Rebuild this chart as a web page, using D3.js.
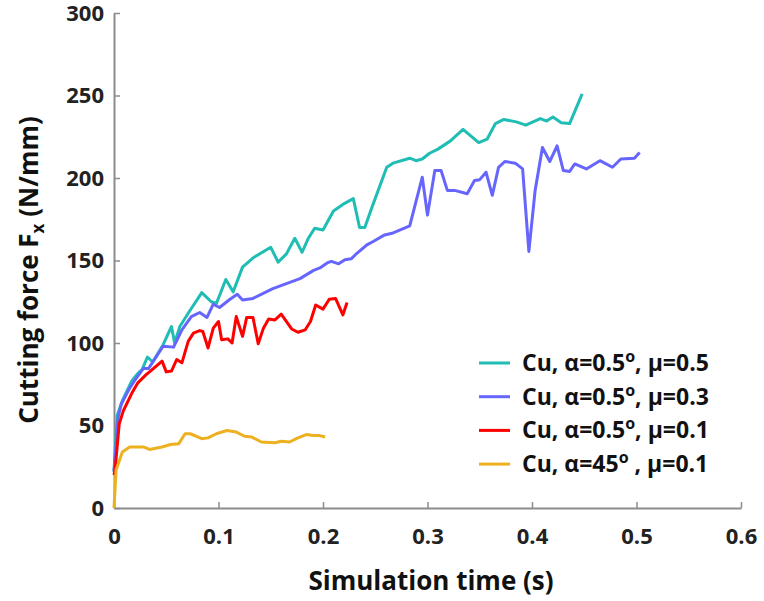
<!DOCTYPE html>
<html>
  <head>
    <meta charset="utf-8">
    <style>
      body { margin: 0; background: #fff; }
      text { font-family: "Open Sans", Lato, sans-serif; font-weight: bold; }
    </style>
  </head>
  <body>
    <svg width="764" height="601"></svg>
    <script src="https://d3js.org/d3.v7.min.js"></script>
    <script>
    // values: time (s) and cutting force (N/mm)
    var cyanT = [0, 0.003, 0.008, 0.017, 0.022, 0.027, 0.032, 0.037, 0.047, 0.055, 0.058, 0.063, 0.071, 0.084, 0.093, 0.098, 0.107, 0.114, 0.123, 0.134, 0.150, 0.157, 0.165, 0.173, 0.180, 0.186, 0.192, 0.200, 0.210, 0.219, 0.229, 0.235, 0.240, 0.247, 0.261, 0.267, 0.283, 0.289, 0.295, 0.302, 0.310, 0.322, 0.334, 0.349, 0.357, 0.365, 0.373, 0.385, 0.394, 0.408, 0.414, 0.420, 0.428, 0.436, 0.448];
    var cyanF = [22, 56, 65, 77, 81, 84, 91.5, 88.5, 99, 110, 100, 110, 118, 130.5, 125, 124, 138.5, 131, 146, 152, 158, 149, 154, 163.5, 155, 163.5, 169.5, 168.5, 180, 184, 187.5, 170, 170, 182.5, 206.5, 209, 212, 210.5, 211.5, 215, 217.5, 222.5, 229.5, 221.5, 223.5, 233, 235.5, 234, 232, 236, 234.5, 237, 233.5, 233, 251];

    var blueT = [0, 0.004, 0.007, 0.014, 0.020, 0.028, 0.033, 0.047, 0.057, 0.065, 0.074, 0.082, 0.089, 0.095, 0.101, 0.111, 0.118, 0.123, 0.133, 0.152, 0.165, 0.178, 0.191, 0.197, 0.204, 0.208, 0.215, 0.221, 0.227, 0.231, 0.242, 0.248, 0.259, 0.266, 0.283, 0.295, 0.300, 0.307, 0.313, 0.319, 0.326, 0.338, 0.345, 0.350, 0.356, 0.362, 0.368, 0.374, 0.384, 0.391, 0.397, 0.403, 0.410, 0.417, 0.424, 0.430, 0.436, 0.441, 0.452, 0.465, 0.477, 0.485, 0.498, 0.503];
    var blueF = [22, 55, 63, 71.5, 77.5, 84.5, 84.5, 98, 97.5, 108, 116, 118.5, 115.5, 123.5, 121.5, 126.5, 129.5, 126, 127, 133, 136, 139, 144, 145.5, 148.5, 149.5, 148, 150.5, 151, 153.5, 159.5, 161.5, 165.5, 166.5, 171, 200.5, 177.5, 204.5, 204.5, 192.5, 192.5, 190.5, 198.5, 199, 203.5, 189.5, 206.5, 210, 209, 205.5, 155.5, 192.5, 218.5, 210, 219.5, 204.5, 204, 208.5, 205.5, 210.5, 206.5, 211.5, 212, 215.5];

    var redT = [0, 0.001, 0.005, 0.009, 0.017, 0.023, 0.031, 0.034, 0.046, 0.050, 0.055, 0.060, 0.065, 0.071, 0.076, 0.082, 0.085, 0.090, 0.095, 0.100, 0.103, 0.109, 0.113, 0.117, 0.123, 0.127, 0.133, 0.138, 0.143, 0.148, 0.154, 0.160, 0.170, 0.176, 0.183, 0.188, 0.193, 0.200, 0.206, 0.212, 0.219, 0.223];
    var redF = [20, 23, 51, 59, 69.5, 76, 81, 82.5, 89, 82.5, 83, 90, 88, 101, 106, 107.5, 107, 97, 109, 113, 102, 102.5, 100, 116, 104, 115.5, 115.5, 99.5, 109, 114.5, 114, 117.5, 108.5, 106.5, 108, 113, 123, 120.5, 126.5, 127, 117, 124.5];

    var yellowT = [0, 0.002, 0.008, 0.015, 0.028, 0.034, 0.046, 0.054, 0.062, 0.068, 0.073, 0.084, 0.090, 0.098, 0.108, 0.117, 0.125, 0.132, 0.141, 0.154, 0.160, 0.168, 0.176, 0.184, 0.191, 0.196, 0.202];
    var yellowF = [0, 23, 34, 37, 37, 35.5, 37, 38.5, 39, 45, 45, 42, 42.5, 45, 47, 46, 43.5, 43, 40, 39.5, 40.5, 40, 42.5, 44.5, 44, 44, 43];

    var xTicks = [0, 0.1, 0.2, 0.3, 0.4, 0.5, 0.6];
    var yTicks = [0, 50, 100, 150, 200, 250, 300];

    var series = [
      { alpha: "0.5", mu: "0.5", t: cyanT, f: cyanF, color: "#20bdb5" },
      { alpha: "0.5", mu: "0.3", t: blueT, f: blueF, color: "#6666ff" },
      { alpha: "0.5", mu: "0.1", t: redT, f: redF, color: "#ff0000" },
      { alpha: "45", mu: "0.1", t: yellowT, f: yellowF, color: "#edb120" }
    ];

    var svg = d3.select("svg");
    var x = d3.scaleLinear().domain([0, 0.6]).range([114, 741]);
    var y = d3.scaleLinear().domain([0, 300]).range([508, 13]);

    var xAxis = svg.append("g")
        .attr("transform", "translate(0," + y(0) + ")")
        .call(d3.axisBottom(x).tickValues(xTicks).tickFormat(d3.format("")).tickSizeInner(-6).tickSizeOuter(0).tickPadding(20));
    var yAxis = svg.append("g")
        .attr("transform", "translate(" + x(0) + ",0)")
        .call(d3.axisLeft(y).tickValues(yTicks).tickSizeInner(-6).tickSizeOuter(0).tickPadding(10));

    [xAxis, yAxis].forEach(function(a) {
      a.select(".domain").attr("stroke", "#8c8c8c").attr("stroke-width", 2);
      a.selectAll(".tick line").attr("stroke", "#8c8c8c").attr("stroke-width", 1.5);
      a.selectAll(".tick text").attr("fill", "#222").style("font-size", "22px")
        .style("font-family", "'Open Sans', sans-serif").style("font-weight", "bold");
    });

    var line = d3.line()
        .x(function(d) { return x(d[0]); })
        .y(function(d) { return y(d[1]); });

    svg.selectAll(".series")
        .data(series)
      .enter().append("path")
        .attr("class", "series")
        .attr("fill", "none")
        .attr("stroke", function(d) { return d.color; })
        .attr("stroke-width", 3)
        .attr("stroke-linejoin", "round")
        .attr("d", function(d) { return line(d3.zip(d.t, d.f)); });

    // legend
    var leg = svg.selectAll(".leg")
        .data(series)
      .enter().append("g")
        .attr("class", "leg")
        .attr("transform", function(d, i) { return "translate(479," + (363 + i * 33.7) + ")"; });
    leg.append("line")
        .attr("x1", 0).attr("x2", 31)
        .attr("stroke", function(d) { return d.color; })
        .attr("stroke-width", 3);
    var lt = leg.append("text")
        .attr("x", 43).attr("y", 8)
        .style("font-size", "23px")
        .attr("fill", "#111");
    lt.append("tspan").text(function(d) { return "Cu, α=" + d.alpha; });
    lt.append("tspan").attr("dy", -9).style("font-size", "16px").text("o");
    lt.append("tspan").attr("dy", 9).text(function(d) { return (d.alpha === "45" ? " , " : ", ") + "μ=" + d.mu; });

    svg.append("text")
        .attr("x", 431).attr("y", 590)
        .attr("text-anchor", "middle")
        .style("font-size", "26px")
        .attr("fill", "#111")
        .text("Simulation time (s)");

    var yt = svg.append("text")
        .attr("transform", "translate(38,270) rotate(-90)")
        .attr("text-anchor", "middle")
        .style("font-size", "26px")
        .attr("fill", "#111");
    yt.append("tspan").text("Cutting force F");
    yt.append("tspan").attr("dy", 6).style("font-size", "17px").text("x");
    yt.append("tspan").attr("dy", -6).text(" (N/mm)");
    </script>
  </body>
</html>
